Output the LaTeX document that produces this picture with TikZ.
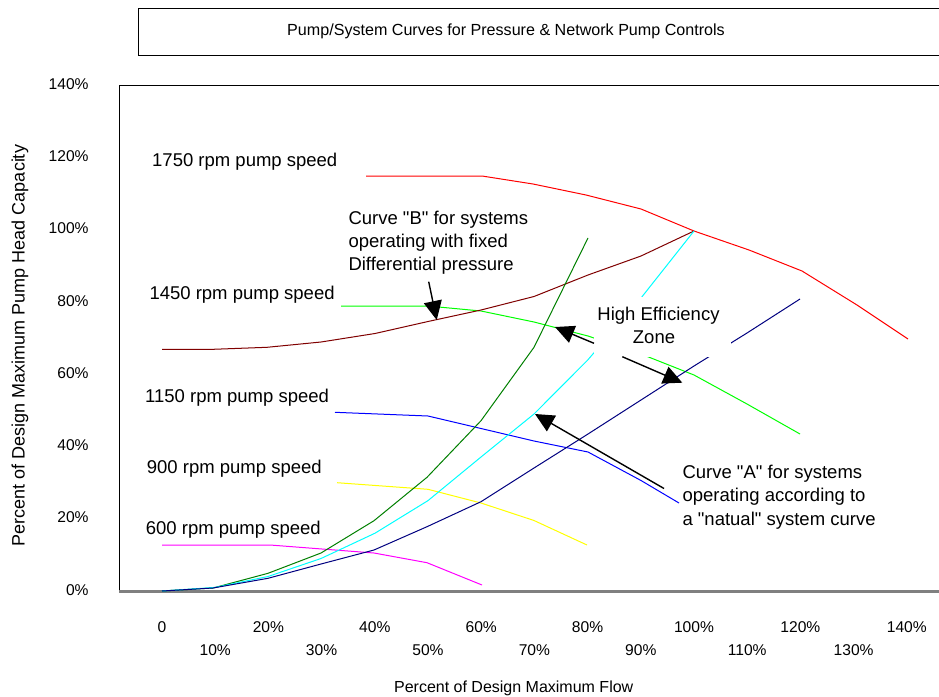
\documentclass[tikz,border=0pt]{standalone}
\usepackage{fontspec}
\setmainfont[Ligatures=TeXOff]{Liberation Sans}
\usetikzlibrary{arrows.meta}
\definecolor{cRed}{RGB}{255,0,0}
\definecolor{cBrown}{RGB}{128,0,0}
\definecolor{cGreen}{RGB}{0,255,0}
\definecolor{cDkGreen}{RGB}{0,128,0}
\definecolor{cCyan}{RGB}{0,255,255}
\definecolor{cNavy}{RGB}{0,0,128}
\definecolor{cBlue}{RGB}{0,0,255}
\definecolor{cYellow}{RGB}{255,255,0}
\definecolor{cMagenta}{RGB}{255,0,255}
\begin{document}
\begin{tikzpicture}[x=1pt,y=-1pt,
  curve/.style={line width=1pt, line join=round},
  lbl/.style={font=\fontsize{18.5}{23}\selectfont, inner sep=0pt, anchor=base west},
  ytick/.style={font=\fontsize{15.6}{18}\selectfont, inner sep=0pt, anchor=base east},
  xtick/.style={font=\fontsize{15.6}{18}\selectfont, inner sep=0pt, anchor=base},
  frame/.style={line width=1pt, black},
  callout/.style={line width=1.4pt, -{Triangle[length=19pt,width=18pt]}},
]
\useasboundingbox (0,0) rectangle (939,696);
\fill[white] (0,0) rectangle (939,696);

% title box
\draw[frame] (945,8.5) -- (138.5,8.5) -- (138.5,55) -- (945,55);
\node[font=\fontsize{16.1}{19}\selectfont, inner sep=0pt, anchor=base] (title) at (506,35) {Pump/System Curves for Pressure \& Network Pump Controls};

% plot frame
\draw[frame] (945,85.5) -- (119.5,85.5) -- (119.5,591);
\draw[line width=3pt, gray] (119,591.5) -- (945,591.5);

% y tick labels
\foreach \v/\t in {0/0\%,20/20\%,40/40\%,60/60\%,80/80\%,100/100\%,120/120\%,140/140\%}{
  \node[ytick] (yt\v) at (88.8,{591-3.614*\v+4.2}) {\t};
}
% x tick labels
\node[xtick] (xt0) at (162,632) {0};
\foreach \u in {20,40,60,80,100,120,140}{
  \node[xtick] (xt\u) at ({162+5.32*\u},632) {\u\%};
}
\foreach \u in {10,30,50,70,90,110,130}{
  \node[xtick] (xt\u) at ({162+5.32*\u},655) {\u\%};
}
% axis titles
\node[font=\fontsize{16}{19}\selectfont, inner sep=0pt, anchor=base] (xtitle) at (513.7,692.5) {Percent of Design Maximum Flow};
\node[font=\fontsize{18}{21}\selectfont, inner sep=0pt, anchor=base, rotate=90] (ytitle) at (24.6,345.5) {Percent of Design Maximum Pump Head Capacity};

% curves
\draw[curve, cRed] (366,176) -- (482,176) -- (533,184) -- (586,195) -- (641,209) -- (694,231) -- (749,250) -- (802,271) -- (857,305) -- (908,339);
\draw[curve, cGreen] (341,306) -- (428,306) -- (481,311) -- (534,322) -- (588,336) -- (641,354) -- (694,375) -- (747,404) -- (800,434);
\draw[curve, cBlue] (335,412.3) -- (428,416) -- (481,428.5) -- (534,441) -- (588,452) -- (641,480.5) -- (679,503);
\draw[curve, cYellow] (337,482.7) -- (428,489.3) -- (481,503) -- (534,520.5) -- (587,545);
\draw[curve, cMagenta] (162,545) -- (270,545) -- (374,553) -- (427,562.7) -- (482,585);
\draw[curve, cBrown] (162,349.3) -- (213,349.3) -- (267,347.3) -- (321,342) -- (375,333.5) -- (428,321.5) -- (481,310) -- (534,296.5) -- (588,275) -- (641,256) -- (694,231);
\draw[curve, cDkGreen] (162,591) -- (213,588) -- (268,573.3) -- (321,553) -- (374,520.7) -- (427,477.3) -- (481,420.7) -- (534,347.3) -- (588,238);
\draw[curve, cCyan] (162,591) -- (215,587.4) -- (268,576.5) -- (321,558.5) -- (375,533.2) -- (428,500.6) -- (481,457) -- (534,414) -- (588,359.7) -- (641,298) -- (694,231);
\draw[curve, cNavy] (162,591) -- (213,588) -- (268,578.3) -- (321,564) -- (374,550) -- (427,526.7) -- (481,501.7) -- (534,468) -- (588,434) -- (641,400) -- (694,366) -- (747,333) -- (800,299);

% speed labels
\node[lbl] (s1750) at (152,166.5) {1750 rpm pump speed};
\node[lbl] (s1450) at (149.3,299.5) {1450 rpm pump speed};
\node[lbl] (s1150) at (145,402.5) {1150 rpm pump speed};
\node[lbl] (s900) at (146.7,473.5) {900 rpm pump speed};
\node[lbl] (s600) at (145.7,534.5) {600 rpm pump speed};

% curve B
\node[lbl] (b1) at (348.3,224.5) {Curve "B" for systems};
\node[lbl] (b2) at (348.3,247.5) {operating with fixed};
\node[lbl] (b3) at (348.3,270.5) {Differential pressure};

% high efficiency zone
\fill[white] (594,297) rectangle (731,357);
\node[lbl, anchor=base] (he1) at (658.5,320) {High Efficiency};
\node[lbl, anchor=base] (he2) at (654,343) {Zone};

% curve A
\node[lbl] (a1) at (682.3,478) {Curve "A" for systems};
\node[lbl] (a2) at (682.3,501.5) {operating according to};
\node[lbl] (a3) at (682.3,525) {a "natual" system curve};

% callout arrows
\coordinate (bTail) at (428.7,281.7);
\coordinate (bTip) at (436.7,320);
\coordinate (h1Tail) at (594,343.3);
\coordinate (h1Tip) at (555,327);
\coordinate (h2Tail) at (622.3,356.7);
\coordinate (h2Tip) at (682.3,382.7);
\coordinate (aTail) at (664,488.5);
\coordinate (aTip) at (535,414);
\draw[callout] (bTail) -- (bTip);
\draw[callout] (h1Tail) -- (h1Tip);
\draw[callout] (h2Tail) -- (h2Tip);
\draw[callout] (aTail) -- (aTip);
\end{tikzpicture}
\end{document}
